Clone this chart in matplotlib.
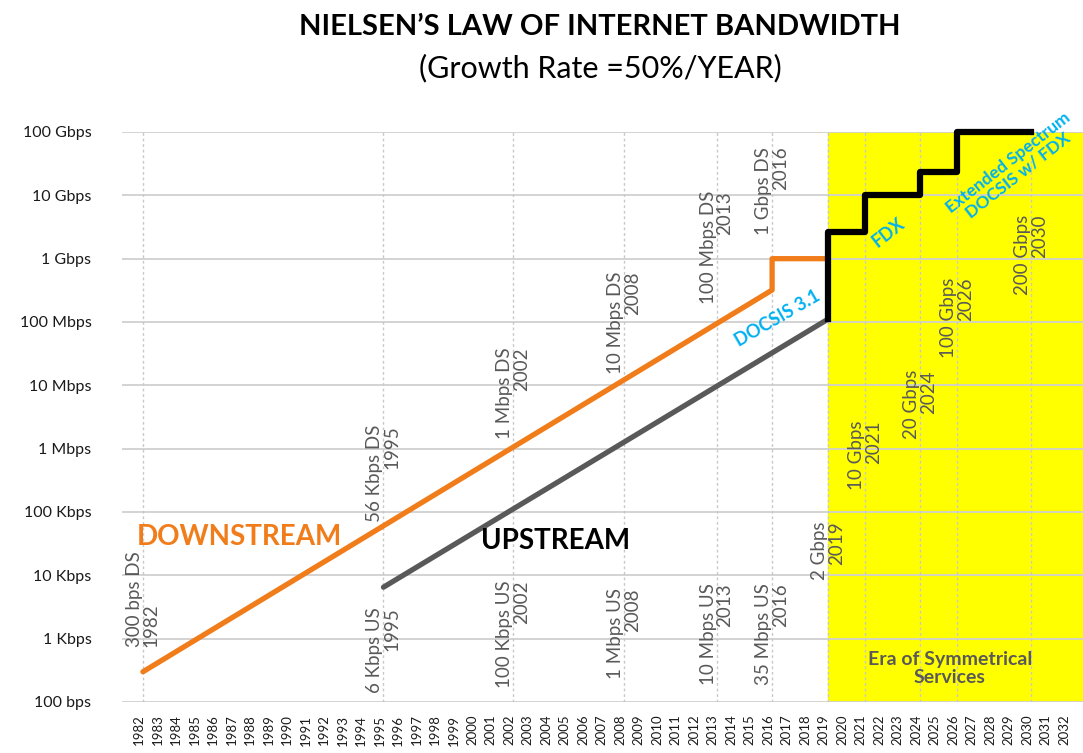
import matplotlib
matplotlib.use("Agg")
import matplotlib.pyplot as plt
import matplotlib.transforms as mtransforms

plt.rcParams['font.family'] = ['Lato', 'DejaVu Sans']

# --- data ---
years = list(range(1982, 2033))
ytick_vals = [1e2, 1e3, 1e4, 1e5, 1e6, 1e7, 1e8, 1e9, 1e10, 1e11]
ytick_labels = ['100 bps', '1 Kbps', '10 Kbps', '100 Kbps', '1 Mbps',
                '10 Mbps', '100 Mbps', '1 Gbps', '10 Gbps', '100 Gbps']

ds_years = [1982, 2016, 2016, 2019]
ds_bps = [300, 3.2e8, 1e9, 1e9]

us_years = [1995, 2019]
us_bps = [6.5e3, 1.1e8]

sym_years = [2019, 2019, 2021, 2021, 2024, 2024, 2026, 2026, 2030]
sym_bps = [1.1e8, 2.6e9, 2.6e9, 1e10, 1e10, 2.3e10, 2.3e10, 1e11, 1e11]

marker_years = [1982, 1995, 2002, 2008, 2013, 2016, 2019, 2021, 2024, 2026, 2030]

# (text, year, where the label sits, line alignment)
ds_notes = [
    ('300 bps DS\n1982', 1982, 740, 'left'),
    ('56 Kbps DS\n1995', 1995, 6.9e4, 'right'),
    ('1 Mbps DS\n2002', 2002, 1.4e6, 'right'),
    ('10 Mbps DS\n2008', 2008, 1.5e7, 'right'),
    ('100 Mbps DS\n2013', 2013, 1.9e8, 'right'),
    ('1 Gbps DS\n2016', 2016, 2.4e9, 'right'),
]
us_notes = [
    ('6 Kbps US\n1995', 1995, 139, 'right'),
    ('100 Kbps US\n2002', 2002, 165, 'right'),
    ('1 Mbps US\n2008', 2008, 230, 'right'),
    ('10 Mbps US\n2013', 2013, 185, 'right'),
    ('35 Mbps US\n2016', 2016, 185, 'right'),
    ('2 Gbps\n2019', 2019, 8.5e3, 'right'),
    ('10 Gbps\n2021', 2021, 2.2e5, 'right'),
    ('20 Gbps\n2024', 2024, 1.4e6, 'right'),
    ('100 Gbps\n2026', 2026, 2.7e7, 'right'),
    ('200 Gbps\n2030', 2030, 2.7e8, 'right'),
]

orange = '#F07C1A'
dark = '#595959'
blue = '#00B0F0'

fig = plt.figure(figsize=(10.83, 7.53), dpi=100)
ax = fig.add_axes([122 / 1083, 1 - 702 / 753, 961 / 1083, 570 / 753])
ax.set_yscale('log')
ax.set_ylim(1e2, 1e11)
ax.set_xlim(1980.87, 2032.8)

ax.axvspan(2019, 2034, color='#FFFF00', zorder=0)

for v in ytick_vals:
    ax.axhline(v, color='#D0D0D0', lw=1.3, zorder=1)
for y in marker_years:
    ax.axvline(y, color='#C8C8C8', lw=1, ls=(0, (2, 2)), zorder=1)

ax.plot(ds_years, ds_bps, color=orange, lw=3.8, solid_capstyle='round', zorder=3)
ax.plot(us_years, us_bps, color=dark, lw=3.8, solid_capstyle='round', zorder=3)
ax.plot(sym_years, sym_bps, color='black', lw=4.5, zorder=4, clip_on=False)

for txt, yr, val, al in ds_notes + us_notes:
    ax.text(yr, val, txt, rotation=90, ha='center', va='bottom',
            multialignment=al, fontsize=13.5, color=dark, linespacing=1.0, zorder=5)

ax.text(1987.2, 4.0e4, 'DOWNSTREAM', color=orange, fontsize=20,
        fontweight='bold', ha='center', va='center')
ax.text(2004.3, 3.5e4, 'UPSTREAM', color='black', fontsize=20,
        fontweight='bold', ha='center', va='center')
ax.text(2025.6, 3.4e2, 'Era of Symmetrical\nServices', color=dark, fontsize=14,
        fontweight='bold', ha='center', va='center', linespacing=1.1)
ax.text(2016.3, 1.15e8, 'DOCSIS 3.1', color=blue, fontsize=13, fontweight='bold',
        rotation=30, ha='center', va='center')
ax.text(2022.3, 2.6e9, 'FDX', color=blue, fontsize=13, fontweight='bold',
        rotation=38, ha='center', va='center')
ax.text(2029.0, 2.6e10, 'Extended Spectrum\nDOCSIS w/ FDX', color=blue, fontsize=12.5,
        fontweight='bold', rotation=38, ha='center', va='center', linespacing=1.0)

ax.set_yticks(ytick_vals)
ax.set_yticklabels(ytick_labels, fontsize=11.5, color='#1a1a1a')
ax.minorticks_off()
ax.set_xticks(years)
ax.set_xticklabels([str(y) for y in years], rotation=90, fontsize=9.5, color='#1a1a1a')
ax.tick_params(axis='both', length=0)
ax.tick_params(axis='y', pad=22)
ax.tick_params(axis='x', pad=9)
shift = mtransforms.ScaledTranslation(-4 / 100, 0, fig.dpi_scale_trans)
for lab in ax.get_xticklabels():
    lab.set_transform(lab.get_transform() + shift)
for s in ax.spines.values():
    s.set_visible(False)

fig.text(600 / 1083, 1 - 27 / 753, 'NIELSEN\u2019S LAW OF INTERNET BANDWIDTH', ha='center',
         va='center', fontsize=21, fontweight='bold', color='black')
fig.text(600 / 1083, 1 - 68 / 753, '(Growth Rate =50%/YEAR)', ha='center',
         va='center', fontsize=22, color='black')

fig.savefig('out.png', dpi=100)
